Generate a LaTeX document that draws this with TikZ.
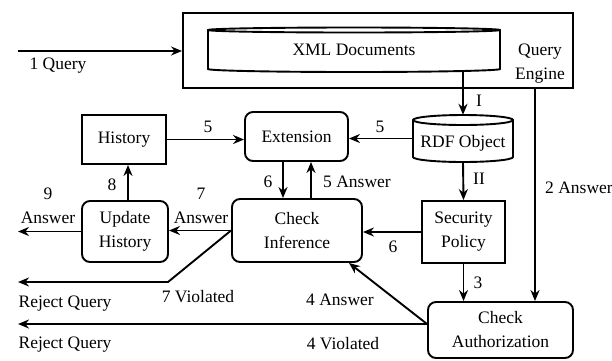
\documentclass[tikz,border=0pt]{standalone}
\usepackage{fontspec}
\setmainfont{Liberation Serif}
\usetikzlibrary{arrows.meta,calc}
\begin{document}
\begin{tikzpicture}[x=1pt,y=-1pt,
  every node/.style={font=\fontsize{17.5}{24}\selectfont, inner sep=0pt},
  line/.style={line width=1.9pt},
  arr/.style={line width=1.9pt,-{Stealth[length=11pt,width=9pt]}},
  sqbox/.style={draw, line width=1.9pt, align=center},
  rbox/.style={draw, line width=1.9pt, rounded corners=8pt, align=center},
  lbl/.style={align=center}]
\useasboundingbox (0,0) rectangle (612,360);

% query engine frame and its XML store
\node[sqbox, minimum width=390pt, minimum height=75pt] (qe) at (378,50.5) {};
\node[lbl] (qetext) at (540,64) {Query\\Engine};
\node[minimum width=292pt, minimum height=44pt] (xml) at (354,50) {XML Documents};
\draw[line] (208,30) arc[start angle=180,end angle=360,x radius=146,y radius=2.5]
  -- (500,69) arc[start angle=0,end angle=180,x radius=146,y radius=3] -- cycle;
\draw[line] (208,30) arc[start angle=180,end angle=0,x radius=146,y radius=2.5];

% RDF store
\node[minimum width=100pt, minimum height=47pt] (rdf) at (463,138.5) {};
\node (rdftext) at (463,143) {RDF Object};
\draw[line] (413,120) arc[start angle=180,end angle=360,x radius=50,y radius=5]
  -- (513,157) arc[start angle=0,end angle=180,x radius=50,y radius=5] -- cycle;
\draw[line] (413,120) arc[start angle=180,end angle=0,x radius=50,y radius=5];

% processing boxes
\node[sqbox, minimum width=84pt, minimum height=49pt] (hist) at (124,139.5) {History};
\node[rbox, minimum width=103pt, minimum height=49pt] (ext) at (296.5,136.5) {Extension};
\node[rbox, minimum width=130pt, minimum height=63pt] (inf) at (297,230.5) {Check\\Inference};
\node[sqbox, minimum width=83pt, minimum height=62pt] (sec) at (463.5,232) {Security\\Policy};
\node[rbox, minimum width=86pt, minimum height=61pt] (upd) at (125,231.5) {Update\\History};
\node[rbox, minimum width=145pt, minimum height=56pt] (auth) at (500.5,330) {Check\\Authorization};

% free ends and bends
\coordinate (qin) at (18,51);
\coordinate (c2) at (535,88);
\coordinate (aw) at ([yshift=6pt]auth.west);
\coordinate (rej4) at (18,324);
\coordinate (bend7) at (168,282);
\coordinate (rej7) at (18,282);
\coordinate (out9) at (18,231.5);

% connectors
\draw[arr] (qin) -- (qin -| qe.west);
\draw[arr] (xml.south -| rdf.north) -- (rdf.north);
\draw[arr] (c2) -- (c2 |- auth.north);
\draw[arr] (hist.east) -- (hist.east -| ext.west);
\draw[arr] (rdf.west) -- (rdf.west -| ext.east);
\draw[arr] ([xshift=-13.5pt]ext.south) -- ([xshift=-13.5pt]ext.south |- inf.north);
\draw[arr] ([xshift=14pt]inf.north) -- ([xshift=14pt]inf.north |- ext.south);
\draw[arr] (sec.west) -- (sec.west -| inf.east);
\draw[arr] (rdf.south) -- (sec.north);
\draw[arr] (sec.south) -- (sec.south |- auth.north);
\draw[arr] (aw) -- ([xshift=-14pt]inf.south east);
\draw[arr] (aw) -- (rej4);
\draw[arr] (inf.west) -- (inf.west -| upd.east);
\draw[arr] (upd.west) -- (out9);
\draw[arr] ([xshift=3pt]upd.north) -- ([xshift=3pt]upd.north |- hist.south);
\draw[arr] (inf.west) -- (bend7) -- (rej7);

% connector labels
\node[lbl] (l1) at (58,66) {1 Query};
\node[lbl] (lI) at (479,101) {I};
\node[lbl, anchor=west] (l2) at (545,188) {2 Answer};
\node[lbl] (l5a) at (208,127) {5};
\node[lbl] (l5b) at (380,127) {5};
\node[lbl] (l6a) at (268,182) {6};
\node[lbl] (l5c) at (357,182) {5 Answer};
\node[lbl] (lII) at (479,179) {II};
\node[lbl] (l6b) at (393,247) {6};
\node[lbl] (l3) at (478,283) {3};
\node[lbl] (l4a) at (340,300) {4 Answer};
\node[lbl] (l4v) at (343,344) {4 Violated};
\node[lbl] (lr4) at (65,345) {Reject Query};
\node[lbl] (l7) at (201,206) {7\\Answer};
\node[lbl] (l9) at (48,206) {9\\Answer};
\node[lbl] (l8) at (112,185) {8};
\node[lbl] (l7v) at (198,297) {7 Violated};
\node[lbl] (lr7) at (65,304) {Reject Query};
\end{tikzpicture}
\end{document}
